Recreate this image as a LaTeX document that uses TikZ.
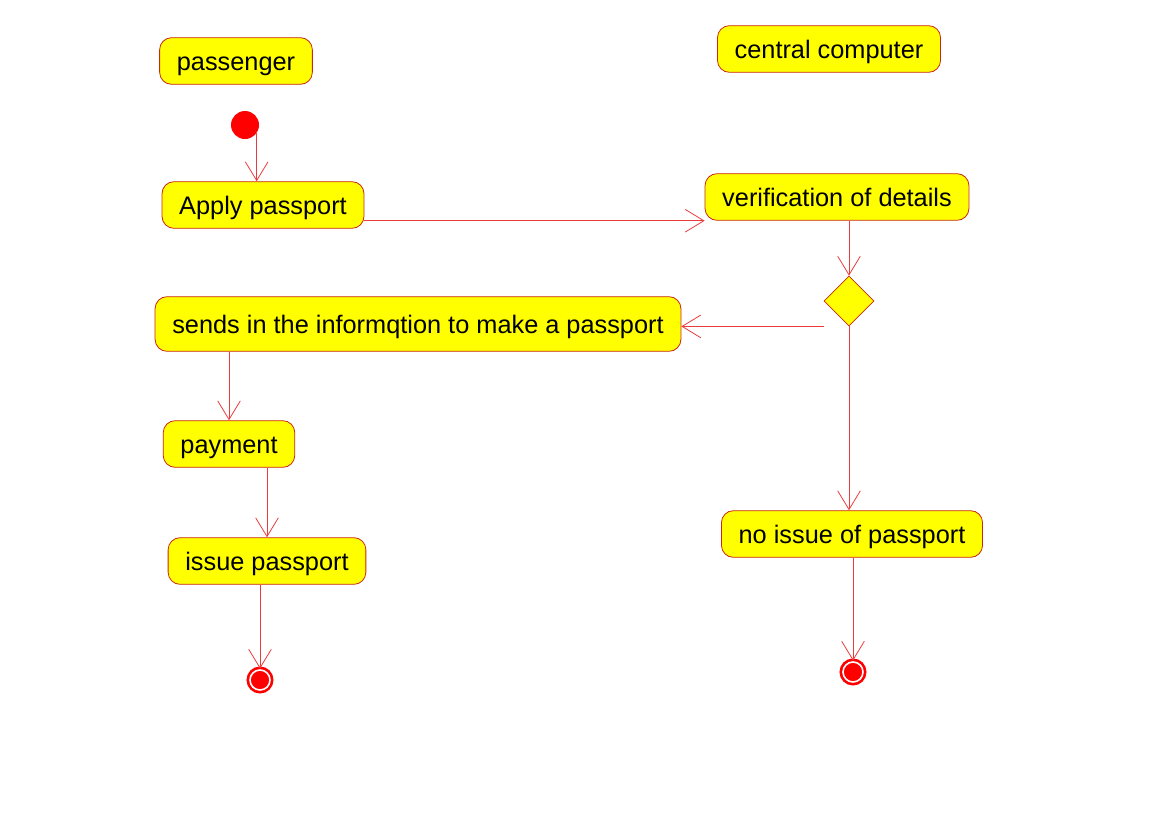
\documentclass[tikz,border=0pt]{standalone}
\usepackage{fontspec}
\setmainfont{Liberation Sans}
\usetikzlibrary{arrows.meta,shapes.geometric}
\definecolor{umlfill}{RGB}{255,255,0}
\definecolor{umlline}{RGB}{200,40,20}
\definecolor{umlflow}{RGB}{235,60,60}
\begin{document}
\begin{tikzpicture}[x=0.75pt,y=-0.75pt,
  act/.style={draw=umlline, fill=umlfill, rounded corners=9pt, line width=0.6pt,
    inner xsep=12.9pt, minimum height=35pt, text height=15pt, text depth=1pt,
    font=\fontsize{19}{22}\selectfont},
  dec/.style={diamond, draw=umlline, fill=umlfill, line width=0.6pt, minimum size=37.5pt, inner sep=0pt},
  fin/.style={circle, fill=red, draw=red, double=white, double distance=1.2pt, line width=2pt, inner sep=0pt, minimum size=15pt},
  flow/.style={draw=umlflow, line width=0.6pt, -{Straight Barb[length=14pt,width=17pt]}}]
\useasboundingbox (0,0) rectangle (1149,832);
\node[act] (pass) at (236,61) {passenger};
\node[act] (comp) at (829,49) {central computer};
\node[circle, fill=red, inner sep=0pt, minimum size=21pt] (init) at (245,125) {};
\node[act] (apply) at (263,205) {Apply passport};
\node[act] (verif) at (837,197) {verification of details};
\node[dec] (chk) at (849,301) {};
\node[act, minimum height=41pt] (sends) at (418,324) {sends in the informqtion to make a passport};
\node[act] (pay) at (229,444) {payment};
\node[act] (issue) at (267,561) {issue passport};
\node[act] (noissue) at (852,534) {no issue of passport};
\node[fin] (fin1) at (260,680) {};
\node[fin] (fin2) at (853,672) {};
% flows
\draw[flow] (init.-35) -- (init.-35 |- apply.north);
\draw[flow] (apply.east |- verif.south) -- (verif.south west);
\draw[flow] (chk.north |- verif.south) -- (chk.north);
\draw[flow] (chk.west |- chk.south) -- (sends.east |- chk.south);
\draw[flow] (chk.south) -- (chk.south |- noissue.north);
\draw[flow] (pay.north |- sends.south) -- (pay.north);
\draw[flow] (issue.north |- pay.south) -- (issue.north);
\draw[flow] (fin1.north |- issue.south) -- (fin1.north);
\draw[flow] (fin2.north |- noissue.south) -- (fin2.north);
\end{tikzpicture}
\end{document}
